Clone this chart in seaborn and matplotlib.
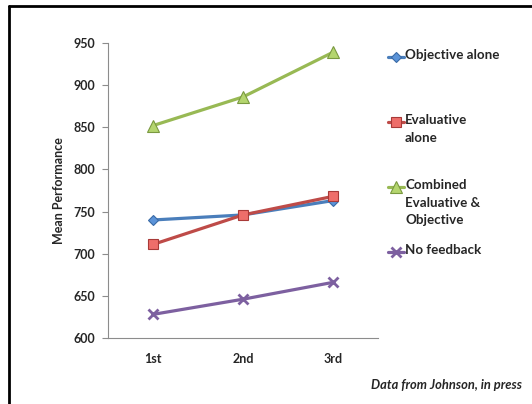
import matplotlib
matplotlib.use("Agg")
import matplotlib.pyplot as plt
from matplotlib.lines import Line2D
import pandas as pd
import seaborn as sns

# Feedback study: mean performance across three sessions
sessions = ["1st", "2nd", "3rd"]
objective_alone = [740, 746, 763]
evaluative_alone = [711, 746, 768]
combined = [852, 886, 939]
no_feedback = [628, 646, 666]

series_names = ["Objective alone", "Evaluative\nalone",
                "Combined\nEvaluative &\nObjective", "No feedback"]
series_values = [objective_alone, evaluative_alone, combined, no_feedback]

y_ticks = [600, 650, 700, 750, 800, 850, 900, 950]

sns.set_style("white")
plt.rcParams["font.family"] = ["Lato", "DejaVu Sans"]

colors = ["#4A7EBB", "#BE4B48", "#98B954", "#7D60A0"]
face = ["#5B93D8", "#EE6E6A", "#B4D56E", "#7D60A0"]
edge = ["#3A6AA6", "#A83A38", "#7A9940", "#7D60A0"]
markers = ["D", "s", "^", "x"]
msizes = [5.5, 7, 8, 7]
medge = [0.8, 0.8, 0.8, 2.0]

rows = []
for name, vals in zip(series_names, series_values):
    for s, v in zip(sessions, vals):
        rows.append({"session": s, "series": name, "value": v})
df = pd.DataFrame(rows)
df["pos"] = df["session"].map({s: i for i, s in enumerate(sessions)})

fig = plt.figure(figsize=(5.32, 4.04), dpi=100)
ax = fig.add_axes([0.2030, 0.1634, 0.5075, 0.7302])

for i, name in enumerate(series_names):
    sub = df[df["series"] == name]
    sns.lineplot(data=sub, x="pos", y="value", ax=ax, color=colors[i],
                 linewidth=2.3, marker=markers[i], markersize=msizes[i],
                 markerfacecolor=face[i], markeredgecolor=edge[i],
                 markeredgewidth=medge[i],
                 legend=False, zorder=3 + (1 if i == 1 else 0))

ax.set_xlim(-0.5, len(sessions) - 0.5)
ax.set_ylim(600, 950)
ax.set_yticks(y_ticks)
ax.set_yticklabels([str(t) for t in y_ticks], fontsize=9, fontweight="bold")
ax.set_xticks(range(len(sessions)))
ax.set_xticklabels(sessions, fontsize=9, fontweight="bold")
ax.set_xticks([-0.5, 0.5, 1.5, 2.5], minor=True)
ax.tick_params(axis="x", which="major", length=0, pad=11)
ax.tick_params(axis="x", which="minor", length=4, color="#8C8C8C", width=0.8)
ax.tick_params(axis="y", length=4, color="#8C8C8C", width=0.8, left=True, pad=5)
ax.set_xlabel("")
ax.set_ylabel("Mean Performance", fontsize=9, fontweight="bold", labelpad=6)

for side in ["top", "right"]:
    ax.spines[side].set_visible(False)
for side in ["left", "bottom"]:
    ax.spines[side].set_color("#8C8C8C")
    ax.spines[side].set_linewidth(0.8)

# Legend at the right, marker beside the first line of each label
W, H = 532.0, 404.0
legend_rows = [56.7, 121.7, 186.7, 251.7]
for i, name in enumerate(series_names):
    yy = 1 - legend_rows[i] / H
    fig.add_artist(Line2D([388 / W, 404 / W], [yy, yy], transform=fig.transFigure,
                          color=colors[i], linewidth=2.3))
    fig.add_artist(Line2D([396 / W], [yy], transform=fig.transFigure,
                          marker=markers[i], markersize=msizes[i],
                          markerfacecolor=face[i], markeredgecolor=edge[i],
                          markeredgewidth=medge[i], linestyle="none"))
    fig.text(405 / W, yy + 7.5 / H, name, ha="left", va="top", fontsize=9.6,
             fontweight="bold", linespacing=1.55)

fig.text(522 / W, 1 - 385 / H, "Data from Johnson, in press", ha="right",
         va="center", fontsize=9.3, fontweight="bold", style="italic")

# Black frame along the top and left edges
fig.add_artist(Line2D([8.5 / W, 1.0], [1 - 5.5 / H, 1 - 5.5 / H],
                      transform=fig.transFigure, color="black", linewidth=2))
fig.add_artist(Line2D([8.5 / W, 8.5 / W], [0.0, 1 - 5.5 / H],
                      transform=fig.transFigure, color="black", linewidth=2))

fig.savefig("out.png", dpi=100)
